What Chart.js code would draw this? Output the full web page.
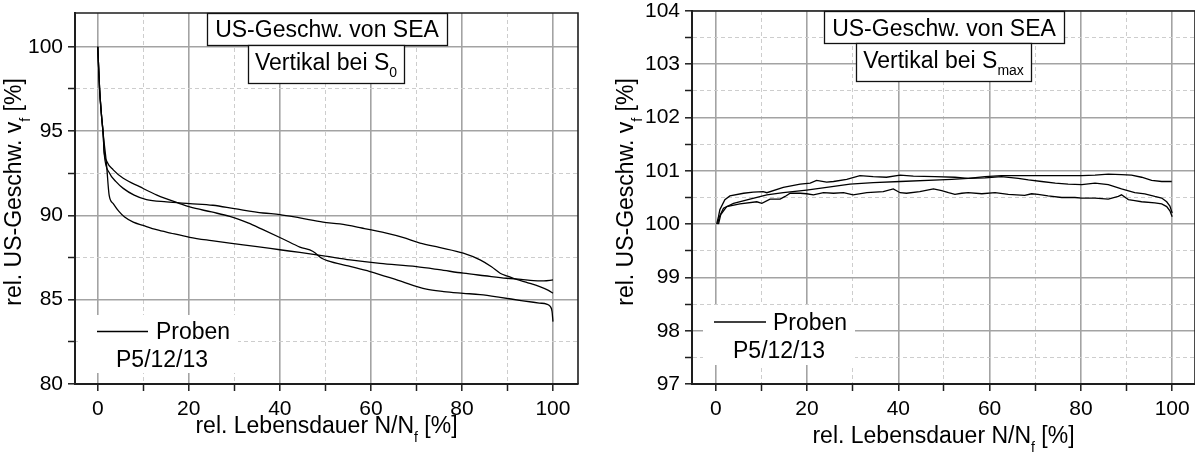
<!doctype html>
<html>
<head>
<meta charset="utf-8">
<title>US-Geschwindigkeit von SEA</title>
<script src="https://cdn.jsdelivr.net/npm/chart.js"></script>
<style>
  body { margin: 0; background: #fff; }
  .wrap { position: relative; width: 1195px; height: 452px; overflow: hidden; }
  canvas { position: absolute; top: 0; }
  #left { left: 0; }
  #right { left: 600px; }
</style>
</head>
<body>
<div class="wrap">
  <canvas id="left" width="600" height="452"></canvas>
  <canvas id="right" width="595" height="452"></canvas>
</div>
<script>
// --- left panel: vertical at S0 (rel. US velocity vs. rel. life) ---
const s0A_x = [0, 0.4, 0.8, 1.2, 1.4, 2, 3.4, 5.6, 9.2, 13, 18, 20.2, 25, 29, 33, 36.3, 40.7, 44.4, 47.3, 49.2, 50.6, 55, 59.8, 66, 72.2, 76, 80.3, 84, 88.4, 93, 97, 98.6, 99.4, 99.8, 100];
const s0A_y = [100, 97.5, 96, 94.8, 93.8, 93.2, 92.7, 92.2, 91.7, 91.2, 90.7, 90.5, 90.2, 89.94, 89.55, 89.15, 88.6, 88.12, 87.86, 87.46, 87.3, 87.0, 86.67, 86.15, 85.62, 85.48, 85.38, 85.3, 85.14, 84.95, 84.8, 84.74, 84.6, 84.3, 83.7];

const s0B_x = [0, 0.4, 0.8, 1.2, 1.4, 2.6, 4, 5.6, 8, 10.7, 15.1, 20.2, 25.3, 30, 36.3, 40, 44.4, 49.5, 53.2, 58, 63.4, 67, 70.8, 75, 80.3, 84, 86.5, 88.4, 90, 92, 94.5, 97.1, 99, 100];
const s0B_y = [100, 97.5, 96, 94.8, 93.7, 92.5, 92.0, 91.6, 91.2, 90.93, 90.8, 90.7, 90.6, 90.4, 90.14, 90.05, 89.85, 89.6, 89.49, 89.25, 88.95, 88.7, 88.36, 88.1, 87.76, 87.36, 86.95, 86.57, 86.4, 86.2, 86.0, 85.77, 85.55, 85.38];

const s0C_x = [0, 0.4, 0.8, 1.2, 1.9, 2.5, 3.4, 4.6, 5.9, 7.8, 10, 12.9, 16, 20.2, 25, 29, 35, 40, 44.4, 50, 55.4, 62, 70, 75, 80.3, 85, 89.8, 93, 95.7, 98, 100];
const s0C_y = [100, 97.5, 96, 94.8, 93.1, 91.2, 90.7, 90.25, 89.9, 89.6, 89.4, 89.15, 88.95, 88.7, 88.5, 88.35, 88.15, 87.96, 87.8, 87.58, 87.36, 87.15, 86.96, 86.78, 86.57, 86.42, 86.27, 86.2, 86.13, 86.12, 86.17];

// --- right panel: vertical at Smax ---
const smaxA_x = [0.2, 0.6, 0.9, 2.0, 3.1, 6.1, 8.2, 10.4, 11.2, 14.8, 18.5, 20.7, 22.1, 24.3, 25.8, 28.7, 31.6, 34.5, 37.4, 40.4, 43.3, 48.0, 52.4, 55.3, 59.0, 62.6, 69.9, 77.2, 80.2, 83.1, 86.0, 88.9, 91.1, 93.3, 95.5, 97.7, 99.9];
const smaxA_y = [100.0, 100.14, 100.27, 100.46, 100.53, 100.58, 100.60, 100.61, 100.59, 100.69, 100.75, 100.77, 100.82, 100.79, 100.80, 100.84, 100.91, 100.89, 100.88, 100.92, 100.90, 100.89, 100.88, 100.86, 100.89, 100.91, 100.91, 100.91, 100.91, 100.92, 100.94, 100.93, 100.92, 100.88, 100.82, 100.80, 100.80];

const smaxB_x = [0.4, 0.8, 1.7, 3.9, 7.5, 11.2, 14.8, 19.9, 24.3, 29.4, 34.5, 40.4, 49.1, 51.7, 55.3, 59.0, 62.6, 66.3, 68.5, 71.4, 74.4, 77.2, 80.2, 83.1, 86.0, 88.9, 91.8, 94.0, 96.2, 97.7, 98.8, 99.5, 100.0];
const smaxB_y = [100.0, 100.14, 100.30, 100.39, 100.47, 100.55, 100.59, 100.64, 100.69, 100.75, 100.78, 100.80, 100.83, 100.84, 100.86, 100.87, 100.89, 100.86, 100.83, 100.80, 100.77, 100.75, 100.74, 100.77, 100.74, 100.66, 100.59, 100.57, 100.52, 100.49, 100.42, 100.34, 100.21];

const smaxC_x = [0.6, 1.1, 2.4, 5.3, 9.0, 10.1, 11.9, 14.1, 15.2, 16.3, 18.5, 19.9, 21.4, 23.6, 25.8, 28.0, 30.1, 33.1, 36.7, 38.9, 40.4, 41.8, 44.7, 47.7, 49.5, 51.0, 52.4, 53.9, 55.3, 58.3, 61.2, 64.1, 67.7, 69.2, 70.6, 72.8, 75.8, 78.7, 80.2, 83.1, 86.0, 88.2, 88.9, 90.4, 91.8, 93.3, 96.2, 97.7, 98.8, 99.5, 100.0];
const smaxC_y = [100.0, 100.18, 100.33, 100.38, 100.42, 100.39, 100.47, 100.47, 100.52, 100.58, 100.58, 100.57, 100.55, 100.59, 100.58, 100.59, 100.55, 100.59, 100.61, 100.66, 100.59, 100.58, 100.61, 100.66, 100.63, 100.59, 100.56, 100.58, 100.59, 100.57, 100.59, 100.56, 100.54, 100.57, 100.56, 100.53, 100.50, 100.50, 100.49, 100.49, 100.47, 100.52, 100.55, 100.46, 100.44, 100.42, 100.40, 100.38, 100.33, 100.25, 100.14];

// texts
const boxTitle = 'US-Geschw. von SEA';
const boxSub = 'Vertikal bei S';
const legendLabel = ['Proben', 'P5/12/13'];
const xTitle = ['rel. Lebensdauer N/N', 'f', ' [%]'];
const yTitle = ['rel. US-Geschw. v', 'f', ' [%]'];

const FONT = '"Liberation Sans", Arial, Helvetica, sans-serif';
Chart.defaults.font.family = FONT;
Chart.defaults.color = '#000';

// decoration (frame, text boxes, legend, axis titles) per canvas
const deco = {
  left: {
    boxes: [
      { x: 207, y: 13, w: 240, h: 32, base: 37, main: boxTitle },
      { x: 248, y: 45, w: 156, h: 38, base: 70, main: boxSub, sub: '0' }
    ],
    legend: { x: 78, y: 315, w: 160, h: 58, lx1: 97, lx2: 148, ly: 331.5, t1x: 156, t1y: 339, t2x: 116, t2y: 367 },
    xTitleY: 433,
    yTitleX: 21
  },
  right: {
    boxes: [
      { x: 224, y: 11, w: 240, h: 32, base: 36, main: boxTitle },
      { x: 256, y: 43, w: 175, h: 38, base: 68, main: boxSub, sub: 'max' }
    ],
    legend: { x: 103, y: 305, w: 152, h: 60, lx1: 114, lx2: 166, ly: 322, t1x: 173, t1y: 330, t2x: 133, t2y: 358 },
    xTitleY: 443,
    yTitleX: 33
  }
};

function drawRich(ctx, parts, x, y) {
  let total = 0;
  parts.forEach(p => { ctx.font = p.size + 'px ' + FONT; p.w = ctx.measureText(p.t).width; total += p.w; });
  let cx = x - total / 2;
  parts.forEach(p => {
    ctx.font = p.size + 'px ' + FONT;
    ctx.fillText(p.t, cx, y + (p.dy || 0));
    cx += p.w;
  });
}

const decor = {
  id: 'decor',
  afterDatasetsDraw(chart) {
    const d = deco[chart.canvas.id];
    const ctx = chart.ctx, a = chart.chartArea;
    ctx.save();
    // top and right frame
    ctx.strokeStyle = '#1e1e1e';
    ctx.lineWidth = 1.6;
    ctx.beginPath();
    ctx.moveTo(a.left, a.top);
    ctx.lineTo(a.right, a.top);
    ctx.lineTo(a.right, a.bottom);
    ctx.stroke();

    ctx.textBaseline = 'alphabetic';
    ctx.fillStyle = '#000';
    d.boxes.forEach(b => {
      ctx.fillStyle = '#fff';
      ctx.fillRect(b.x, b.y, b.w, b.h);
      ctx.strokeStyle = '#111';
      ctx.lineWidth = 1.3;
      ctx.strokeRect(b.x + 0.5, b.y + 0.5, b.w, b.h);
      ctx.fillStyle = '#000';
      const parts = [{ t: b.main, size: 23 }];
      if (b.sub) parts.push({ t: b.sub, size: 14, dy: 7 });
      drawRich(ctx, parts, b.x + b.w / 2, b.base);
    });

    const g = d.legend;
    ctx.fillStyle = '#fff';
    ctx.fillRect(g.x, g.y, g.w, g.h);
    ctx.strokeStyle = '#000';
    ctx.lineWidth = 1.3;
    ctx.beginPath();
    ctx.moveTo(g.lx1, g.ly);
    ctx.lineTo(g.lx2, g.ly);
    ctx.stroke();
    ctx.fillStyle = '#000';
    ctx.font = '23px ' + FONT;
    ctx.textAlign = 'left';
    ctx.fillText(legendLabel[0], g.t1x, g.t1y);
    ctx.fillText(legendLabel[1], g.t2x, g.t2y);
    ctx.restore();
  },
  afterDraw(chart) {
    const d = deco[chart.canvas.id];
    const ctx = chart.ctx, a = chart.chartArea;
    ctx.save();
    ctx.fillStyle = '#000';
    ctx.textAlign = 'left';
    ctx.textBaseline = 'alphabetic';
    drawRich(ctx, [{ t: xTitle[0], size: 23 }, { t: xTitle[1], size: 14, dy: 9 }, { t: xTitle[2], size: 23 }],
      (a.left + a.right) / 2, d.xTitleY);
    ctx.translate(d.yTitleX, 192);
    ctx.rotate(-Math.PI / 2);
    drawRich(ctx, [{ t: yTitle[0], size: 23 }, { t: yTitle[1], size: 14, dy: 9 }, { t: yTitle[2], size: 23 }], 0, 0);
    ctx.restore();
  }
};

function makePanel(id, series, smooth, xMin, xMax, yMin, yMax, yStep, yMajor, yWidth, padTop, padRight) {
  const xMajor = v => v % 20 === 0;
  new Chart(document.getElementById(id), {
    type: 'line',
    data: {
      datasets: series.map(s => ({
        data: s[0].map((x, i) => ({ x: x, y: s[1][i] })),
        borderColor: '#000',
        borderWidth: 1.3,
        pointRadius: 0,
        fill: false,
        tension: 0,
        cubicInterpolationMode: smooth ? 'monotone' : 'default'
      }))
    },
    options: {
      responsive: false,
      animation: false,
      events: [],
      layout: { padding: { left: 0, top: padTop, right: padRight, bottom: 0 } },
      plugins: { legend: { display: false }, tooltip: { enabled: false } },
      scales: {
        x: {
          type: 'linear',
          min: xMin,
          max: xMax,
          ticks: {
            stepSize: 10, includeBounds: false, autoSkip: false, maxRotation: 0,
            padding: 6, color: '#000', font: { size: 21 },
            callback: v => xMajor(v) ? v : ''
          },
          grid: {
            color: c => c.tick && xMajor(c.tick.value) ? '#a3a3a3' : '#cdcdcd',
            lineWidth: c => c.tick && xMajor(c.tick.value) ? 1.6 : 1,
            tickColor: '#1e1e1e', tickLength: 7, tickWidth: 1.5
          },
          border: {
            color: '#1e1e1e', width: 2,
            dash: c => c.tick && !xMajor(c.tick.value) ? [4, 3] : []
          },
          afterFit: s => { s.height = 68; s.paddingLeft = 0; s.paddingRight = 0; }
        },
        y: {
          type: 'linear',
          min: yMin,
          max: yMax,
          ticks: {
            stepSize: yStep, includeBounds: false, autoSkip: false,
            padding: 5, color: '#000', font: { size: 21, lineHeight: 1 },
            callback: v => yMajor(v) ? v : ''
          },
          grid: {
            color: c => c.tick && yMajor(c.tick.value) ? '#a3a3a3' : '#cdcdcd',
            lineWidth: c => c.tick && yMajor(c.tick.value) ? 1.6 : 1,
            tickColor: '#1e1e1e', tickLength: 7, tickWidth: 1.5
          },
          border: {
            color: '#1e1e1e', width: 2,
            dash: c => c.tick && !yMajor(c.tick.value) ? [4, 3] : []
          },
          afterFit: s => { s.width = yWidth; s.paddingTop = 0; s.paddingBottom = 0; }
        }
      }
    },
    plugins: [decor]
  });
}

makePanel('left', [[s0A_x, s0A_y], [s0B_x, s0B_y], [s0C_x, s0C_y]], true,
  -5, 105.5, 80, 102, 2.5, v => v % 5 === 0, 75, 13, 22);
makePanel('right', [[smaxA_x, smaxA_y], [smaxB_x, smaxB_y], [smaxC_x, smaxC_y]], false,
  -5.2, 105, 97, 104, 0.5, v => Number.isInteger(v), 92, 11, 0);
</script>
</body>
</html>
